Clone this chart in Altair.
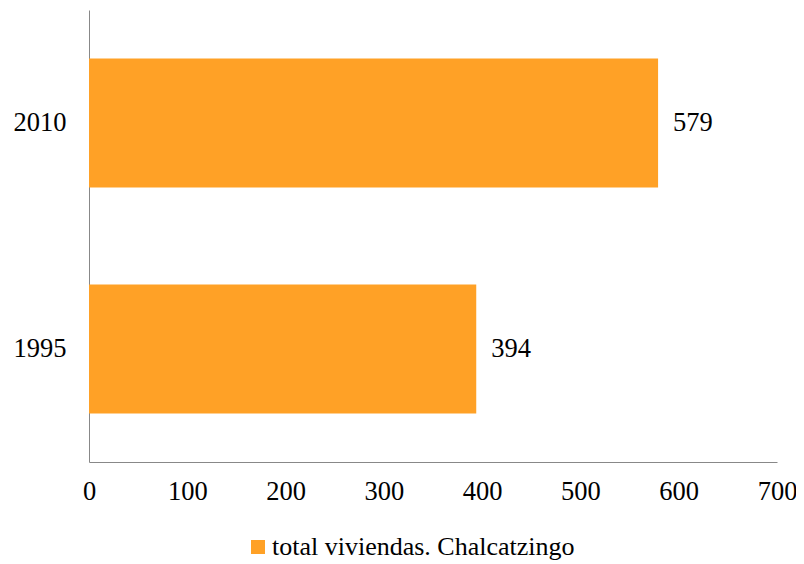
import altair as alt
import pandas as pd

years = ["2010", "1995"]
values = [579, 394]
series = ["total viviendas. Chalcatzingo"] * 2
x_ticks = [0, 100, 200, 300, 400, 500, 600, 700]

df = pd.DataFrame({"year": years, "value": values, "series": series})

FONT = "Liberation Serif"
ORANGE = "#FFA126"
FS = 26.5

base = alt.Chart(df)

bars = base.mark_bar(color=ORANGE).encode(
    x=alt.X("value:Q", scale=alt.Scale(domain=[0, 700], nice=False),
            axis=alt.Axis(values=x_ticks, title=None, grid=False, ticks=False,
                          labelFont=FONT, labelFontSize=FS, labelColor="black",
                          labelPadding=16, domainColor="#888888", labelFlush=False)),
    y=alt.Y("year:N", sort=years,
            scale=alt.Scale(paddingInner=0.43, paddingOuter=0.215),
            axis=alt.Axis(title=None, ticks=False, labelFont=FONT, labelFontSize=FS,
                          labelColor="black", labelPadding=23, domainColor="#888888")),
    fill=alt.Fill("series:N", scale=alt.Scale(range=[ORANGE]),
                  legend=alt.Legend(title=None, orient="none", legendX=156, legendY=524,
                                    symbolType="square", symbolSize=196,
                                    symbolStrokeWidth=0, labelFont=FONT, labelFontSize=26,
                                    labelOffset=1,
                                    labelColor="black", labelLimit=500)),
)

text = base.mark_text(align="left", dx=15, font=FONT, fontSize=FS, color="black").encode(
    x="value:Q",
    y=alt.Y("year:N", sort=years),
    text="value:Q",
)

chart = (bars + text).properties(
    width=688, height=452,
    autosize=alt.AutoSizeParams(type="none"),
    padding={"left": 81, "top": 2, "right": 19, "bottom": 100},
).configure_view(stroke=None)

chart.save("out.html", embed_options={"renderer": "svg", "actions": False})
